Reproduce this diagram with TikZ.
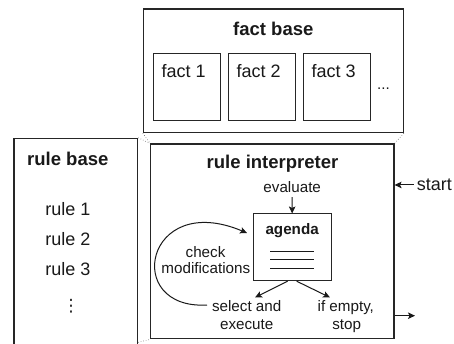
\documentclass[tikz,border=0pt]{standalone}
\usepackage{fontspec}
\setmainfont{Liberation Sans}
\newfontfamily\dotsfont{DejaVu Sans}
\usetikzlibrary{arrows.meta}
\newcommand\hdfont{\fontsize{18.5}{20}\selectfont\bfseries}
\newcommand\lbfont{\fontsize{18}{20}\selectfont}
\newcommand\smfont{\fontsize{15.2}{17}\selectfont}
\begin{document}
\begin{tikzpicture}[x=1pt,y=-1pt,
  frame/.style={draw=black!85,line width=1.1pt,inner sep=0pt,fill=white},
  cell/.style={draw=black!85,line width=1pt,inner sep=0pt,minimum width=66.7pt,minimum height=66.7pt},
  txt/.style={inner sep=0pt,text=black!90,anchor=base},
  link/.style={draw=black!60,line width=0.6pt,dotted},
  flow/.style={draw=black!90,line width=1pt,-{Stealth[length=7pt,width=6.5pt,inset=1.5pt]}}]
\useasboundingbox (0,0) rectangle (454,344);

% rule base (runs off the lower edge)
\node[frame,minimum width=123.7pt,minimum height=213.7pt] (rulebase) at (75.85,245.15) {};
\node[txt,font=\hdfont] (rbtitle) at (67.8,166) {rule base};
\node[txt,font=\lbfont] (r1) at (68,215) {rule 1};
\node[txt,font=\lbfont] (r2) at (68,245) {rule 2};
\node[txt,font=\lbfont] (r3) at (68,275) {rule 3};
\node[txt,font=\dotsfont\fontsize{17}{18}\selectfont] (rdots) at (71,311) {⋮};

% fact base
\node[frame,minimum width=260pt,minimum height=123.7pt] (factbase) at (273.3,70.85) {};
\node[txt,font=\hdfont] (fbtitle) at (273.3,36) {fact base};
\node[cell] (f1) at (186.7,86.7) {};
\node[cell] (f2) at (261.7,86.7) {};
\node[cell] (f3) at (336.7,86.7) {};
\node[txt,font=\lbfont,anchor=base west] (f1t) at ([xshift=8.5pt]f1.west |- 0,77.3) {fact 1};
\node[txt,font=\lbfont,anchor=base west] (f2t) at ([xshift=8.5pt]f2.west |- 0,77.3) {fact 2};
\node[txt,font=\lbfont,anchor=base west] (f3t) at ([xshift=8.5pt]f3.west |- 0,77.3) {fact 3};
\node[txt,font=\smfont,anchor=base west] (fdots) at (377,90) {...};

% rule interpreter
\node[frame,minimum width=243.3pt,minimum height=194.8pt] (interp) at (272.35,241.4) {};
\node[txt,font=\hdfont] (ititle) at (272.5,168.3) {rule interpreter};

% perspective links between the three parts
\path[link] (factbase.south west) -- (interp.north west);
\path[link] (factbase.south east) -- (interp.north east);
\path[link] (rulebase.north east) -- (interp.north west);
\path[link] ([yshift=-3pt]rulebase.east |- interp.south) -- (interp.south west);

% agenda
\node[draw=black!85,line width=1pt,inner sep=0pt,minimum width=77.7pt,minimum height=66.7pt] (agenda) at (292.15,247.35) {};
\node[txt,font=\smfont\bfseries] (agtitle) at (292.15,234.3) {agenda};
\foreach \yy [count=\i] in {251,259.5,268}
  \draw[black!90,line width=1pt] (270,\yy) coordinate (la\i) -- (314,\yy) coordinate (lb\i);

\node[txt,font=\smfont] (eval) at (292.2,192.3) {evaluate};
\draw[flow,shorten <=4.4pt] (eval.south) -- (agenda.north);

\node[txt,font=\smfont] (chk) at (205.5,257.3) {check};
\node[txt,font=\smfont] (mods) at (205.8,273.3) {modifications};

\node[txt,font=\smfont] (sel) at (246.7,311.7) {select and};
\node[txt,font=\smfont] (exe) at (246.7,329.3) {execute};
\node[txt,font=\smfont] (ifempty) at (345.8,311.7) {if empty,};
\node[txt,font=\smfont] (stop) at (346.7,329.3) {stop};

\draw[flow] ([xshift=-4.5pt]agenda.south) -- ([xshift=8.3pt,yshift=3pt]sel.north);
\draw[flow] ([xshift=4.5pt]agenda.south) -- ([xshift=-15.8pt,yshift=3pt]ifempty.north);

% loop back from execution to the agenda
\coordinate (loopstart) at (207,305);
\draw[flow] (loopstart) .. controls (122,310) and (145,190) .. (247,233);

% start and end of the cycle
\node[txt,font=\lbfont,anchor=base west] (start) at (416.7,190.7) {start};
\draw[flow,shorten <=3pt] (start.west) -- (start.west -| interp.east);
\coordinate (finish) at (415,315.7);
\draw[flow] (finish -| interp.east) -- (finish);
\end{tikzpicture}
\end{document}
